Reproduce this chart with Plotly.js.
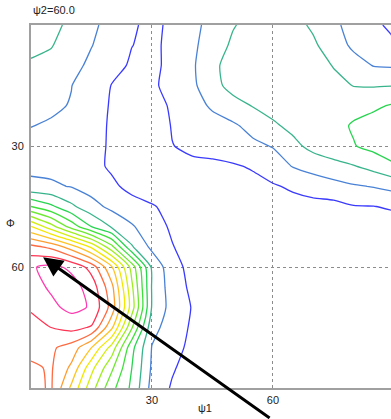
<!DOCTYPE html>
<html>
<head>
<meta charset="utf-8">
<script src="https://cdn.plot.ly/plotly-3.0.1.min.js"></script>
<style>html,body{margin:0;padding:0;background:#fff;}#chart{width:391px;height:419px;}</style>
</head>
<body>
<div id="chart"></div>
<script>
// psi1 (x) and Phi (y) grid, degrees
const psi1 = [0,5,10,15,20,25,30,35,40,45,50,55,60,65,70,75,80,85,90];
const phi  = [0,5,10,15,20,25,30,35,40,45,50,55,60,65,70,75,80,85,90];

// ODF intensity f(g) at psi2 = 60, one row per Phi value
const row00 = [3.4,3.25,2.8,2.2,1.65,1.15,0.7,1.25,1.75,2.3,2.93,3.3,3.45,3.3,2.85,2.2,1.65,1.2,0.75];
const row05 = [3.15,3.05,2.6,2.03,1.55,1.02,0.75,1.3,1.8,2.5,3.15,3.4,3.5,3.4,3.15,2.5,1.8,1.45,1.15];
const row10 = [2.92,2.75,2.3,1.8,1.4,0.85,0.7,1.35,1.85,2.8,3.35,3.55,3.6,3.6,3.45,2.95,2.4,1.95,1.88];
const row15 = [2.65,2.4,2.02,1.5,0.97,0.7,0.85,1.3,1.8,2.65,3.35,3.6,3.7,3.75,3.6,3.3,2.97,2.93,2.97];
const row20 = [2.3,2.15,1.95,1.4,0.92,0.6,0.55,1.15,1.6,2.15,2.6,3.05,3.35,3.55,3.6,3.6,3.7,3.85,4.1];
const row25 = [2.02,1.9,1.65,1.3,0.9,0.5,0.45,1.05,1.35,1.6,1.85,2.3,2.85,3.25,3.45,3.7,4.1,4.35,4.45];
const row30 = [1.75,1.7,1.5,1.25,0.9,0.5,0.4,0.98,1.15,1.35,1.55,1.8,2.05,2.75,3.3,3.6,3.95,4.3,4.45];
const row35 = [1.8,1.72,1.55,1.3,0.85,0.45,0.35,0.45,0.85,0.8,0.9,1.1,1.55,2.05,2.4,2.7,2.95,3.35,3.9];
const row40 = [2.2,2.15,1.95,1.6,1.2,0.7,0.35,0.3,0.35,0.45,0.55,0.7,0.9,1.15,1.4,1.65,1.9,2.05,2.3];
const row45 = [5.0,4.2,3.2,2.35,1.75,1.4,1.1,0.65,0.45,0.4,0.4,0.45,0.55,0.65,0.7,0.7,0.95,0.98,1.15];
const row50 = [9.05,7.4,5.6,4.0,2.9,2.1,1.45,0.85,0.4,0.35,0.35,0.4,0.4,0.45,0.5,0.5,0.55,0.55,0.45];
const row55 = [12.3,11.75,10.5,8.8,6.3,3.1,1.75,1.05,0.55,0.4,0.35,0.35,0.4,0.4,0.45,0.45,0.5,0.5,0.45];
const row60 = [13.9,14.25,13.8,12.6,10.1,6.6,2.8,1.35,0.7,0.45,0.35,0.35,0.35,0.4,0.4,0.45,0.45,0.45,0.4];
const row65 = [13.6,14.15,14.4,13.6,11.3,7.2,2.9,1.5,0.8,0.5,0.4,0.35,0.35,0.35,0.4,0.4,0.45,0.45,0.4];
const row70 = [13.1,13.75,14.3,13.9,11.6,7.5,2.9,1.6,0.95,0.55,0.4,0.35,0.35,0.35,0.35,0.4,0.4,0.4,0.35];
const row75 = [12.7,13.0,13.3,12.9,10.2,6.1,2.3,1.55,0.85,0.55,0.4,0.35,0.3,0.3,0.35,0.35,0.4,0.4,0.35];
const row80 = [12.3,12.15,11.6,10.0,7.6,4.3,1.95,1.35,0.75,0.5,0.4,0.35,0.3,0.3,0.3,0.35,0.35,0.35,0.3];
const row85 = [11.85,12.1,10.8,8.3,6.2,4.0,1.85,1.1,0.6,0.45,0.35,0.3,0.3,0.3,0.3,0.3,0.35,0.35,0.3];
const row90 = [11.75,12.1,9.8,7.4,5.3,3.8,1.65,0.9,0.55,0.4,0.35,0.3,0.3,0.25,0.3,0.3,0.3,0.3,0.3];

// contour levels and their line colours
const levels = [1,2,3,4,5,6,7,8,9,10,11,12,13,14];
const levelColors = ['#3a3aff','#4a82d6','#38b48c','#28d450','#3ee03a','#6ee832','#9eee22','#d4ee10',
                     '#f4e800','#ffc424','#ff9c30','#ff6a40','#ff3352','#ff3cb0'];

const title = 'ψ2=60.0';
const xLabel = 'ψ1';
const yLabel = 'Φ';
const tickVals = [30,60];
const tickText = ['30','60'];

const z = [row00,row05,row10,row15,row20,row25,row30,row35,row40,row45,
           row50,row55,row60,row65,row70,row75,row80,row85,row90];

const lo = levels[0], hi = levels[levels.length-1];
const colorscale = levels.map((v,i)=>[(v-lo)/(hi-lo), levelColors[i]]);

const font = {family:'Liberation Sans, Arial, sans-serif', size:11, color:'#222'};

const trace = {
  type:'contour', x:psi1, y:phi, z:z,
  zauto:false, zmin:lo, zmax:hi,
  colorscale:colorscale, showscale:false,
  contours:{coloring:'lines', start:lo, end:hi, size:1, showlabels:false},
  line:{width:1.3, smoothing:0.6},
  hoverinfo:'skip'
};

const axisCommon = {
  tickvals:tickVals, ticktext:tickText, ticks:'', showgrid:true,
  gridcolor:'#8c8c8c', griddash:'3px,3px', gridwidth:1,
  zeroline:false, showline:true, linecolor:'#a0a0a0', linewidth:2,
  tickfont:font
};

const layout = {
  width:391, height:419,
  margin:{l:31, r:0, t:25, b:31},
  paper_bgcolor:'#fff', plot_bgcolor:'#fff',
  showlegend:false,
  xaxis:Object.assign({}, axisCommon, {range:[0,89.26], mirror:true, ticklabelstandoff:1}),
  yaxis:Object.assign({}, axisCommon, {range:[90,0], ticklabelstandoff:3}),
  font:font,
  annotations:[
    {xref:'paper', yref:'paper', x:0.0, y:1.0, xanchor:'left', yanchor:'bottom', yshift:7,
     text:title, showarrow:false, font:font},
    {xref:'paper', yref:'paper', x:0.483, y:0, xanchor:'center', yanchor:'middle', yshift:-20,
     text:xLabel, showarrow:false, font:font},
    {xref:'paper', yref:'paper', x:0, y:0.455, xanchor:'center', yanchor:'middle', xshift:-21,
     text:yLabel, showarrow:false, font:font},
    {xref:'x', yref:'y', x:3.0, y:57.6, ax:228, ay:172, axref:'pixel', ayref:'pixel',
     text:'', showarrow:true, arrowhead:2, arrowsize:1.3, arrowwidth:3, arrowcolor:'#000', standoff:0}
  ]
};

Plotly.newPlot('chart', [trace], layout, {staticPlot:true, displayModeBar:false});
</script>
</body>
</html>
